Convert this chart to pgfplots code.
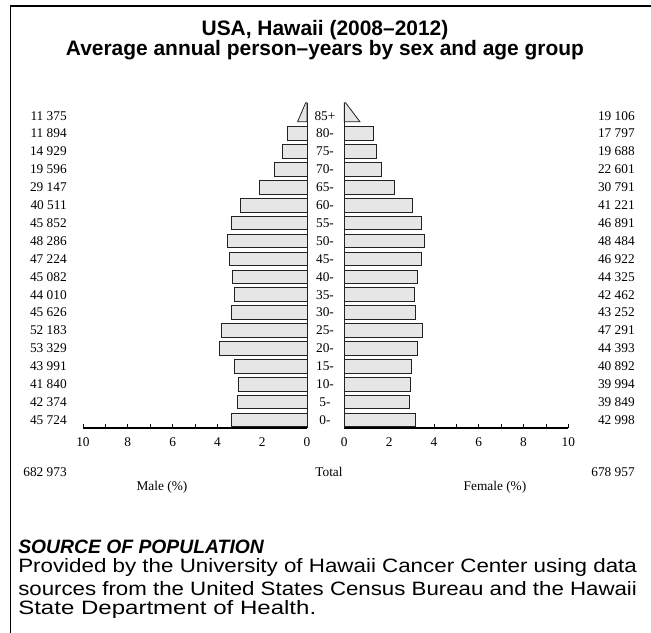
\documentclass[border=0pt]{standalone}
\usepackage{fontspec}
\setmainfont{Liberation Serif}
\newfontfamily\arial{Liberation Sans}
\usepackage{graphicx}
\usepackage{pgfplots}
\pgfplotsset{compat=1.18}
\definecolor{barfill}{HTML}{E6E6E6}
\definecolor{baredge}{HTML}{222222}

% age group index 0..16 (0- ... 80-); 85+ drawn as triangle
\pgfplotstableread{
r   male    female
0   3.357   3.157
1   3.111   2.926
2   3.072   2.937
3   3.230   3.003
4   3.916   3.260
5   3.832   3.472
6   3.350   3.176
7   3.231   3.118
8   3.310   3.255
9   3.467   3.445
10  3.545   3.560
11  3.367   3.443
12  2.975   3.027
13  2.140   2.261
14  1.439   1.659
15  1.096   1.446
16  0.873   1.307
}\pyramid

\begin{document}
\begin{tikzpicture}
\begin{scope}[x=0.75pt,y=0.75pt]
\useasboundingbox (0,0) rectangle (651,633);
\draw[line width=0.8pt] (10.5,0) -- (10.5,627) -- (651,627);
\end{scope}

\pgfplotsset{pyr/.style={
  scale only axis, width=168pt, height=247.65pt,
  xmin=0, xmax=10, ymin=-0.447, ymax=18,
  axis x line*=bottom, axis y line=none,
  xtick={0,2,...,10}, minor xtick={1,3,...,9},
  tick align=inside, major tick length=3pt, minor tick length=3pt,
  tick style={black, line width=0.6pt},
  x axis line style={line width=0.8pt, -},
  ytick=\empty,
  /pgf/number format/assume math mode=true,
  xticklabel style={font=\fontsize{10}{12}\selectfont, yshift=-4pt},
  clip=false,
}}

% Male
\begin{axis}[pyr, x dir=reverse, at={(62.25pt,153.75pt)}, anchor=south west]
\addplot[xbar, bar width=0.76, bar shift=0pt, fill=barfill, draw=baredge, line width=0.7pt] table[x=male, y=r] {\pyramid};
\addplot[fill=barfill, draw=baredge, line width=0.6pt] coordinates {(0,16.66) (0.42,16.66) (0.06,17.72) (0,17.72) (0,16.66)};
\addplot[draw=baredge, line width=0.7pt] coordinates {(0,-0.447) (0,17.72)};
\end{axis}

% Female
\begin{axis}[pyr, at={(258.225pt,153.75pt)}, anchor=south west]
\addplot[xbar, bar width=0.76, bar shift=0pt, fill=barfill, draw=baredge, line width=0.7pt] table[x=female, y=r] {\pyramid};
\addplot[fill=barfill, draw=baredge, line width=0.6pt] coordinates {(0,16.66) (0.70,16.66) (0.06,17.72) (0,17.72) (0,16.66)};
\addplot[draw=baredge, line width=0.7pt] coordinates {(0,-0.447) (0,17.72)};
\end{axis}

\begin{scope}[x=0.75pt,y=0.75pt]
% row labels
\begin{scope}[font=\fontsize{10}{12}\selectfont]
\foreach \m/\a/\f [count=\i from 0] in {
 45~724/0-/42~998, 42~374/5-/39~849, 41~840/10-/39~994,
 43~991/15-/40~892, 53~329/20-/44~393, 52~183/25-/47~291,
 45~626/30-/43~252, 44~010/35-/42~462, 45~082/40-/44~325,
 47~224/45-/46~922, 48~286/50-/48~484, 45~852/55-/46~891,
 40~511/60-/41~221, 29~147/65-/30~791, 19~596/70-/22~601,
 14~929/75-/19~688, 11~894/80-/17~797, 11~375/85+/19~106}{
  \node[anchor=east, inner sep=0pt] at (67,213+17.9*\i) {\m};
  \node[inner sep=0pt] at (325,213+17.9*\i) {\a};
  \node[anchor=east, inner sep=0pt] at (635,213+17.9*\i) {\f};
}
\node[anchor=east, inner sep=0pt] at (67,161) {682~973};
\node[inner sep=0pt] at (329,161) {Total};
\node[anchor=east, inner sep=0pt] at (635,161) {678~957};
\node[inner sep=0pt] at (162,146) {Male (\%)};
\node[inner sep=0pt] at (495,146) {Female (\%)};
\end{scope}

% title
\node[font=\arial\bfseries\fontsize{15.7}{18}\selectfont, inner sep=0pt] at (325,603) {USA, Hawaii (2008–2012)};
\node[font=\arial\bfseries\fontsize{15.7}{18}\selectfont, inner sep=0pt] at (325,583) {Average annual person–years by sex and age group};

% source
\begin{scope}[font=\arial\fontsize{14.5}{16}\selectfont]
\node[anchor=west, inner sep=0pt, font=\arial\bfseries\itshape\fontsize{14.5}{16}\selectfont] at (18,86) {SOURCE OF POPULATION};
\node[anchor=west, inner sep=0pt] at (18,65) {\resizebox{464pt}{\height}{Provided by the University of Hawaii Cancer Center using data}};
\node[anchor=west, inner sep=0pt] at (18,44) {\resizebox{464pt}{\height}{sources from the United States Census Bureau and the Hawaii}};
\node[anchor=west, inner sep=0pt] at (18,23) {\resizebox{223.5pt}{\height}{State Department of Health.}};
\end{scope}
\end{scope}
\end{tikzpicture}
\end{document}
